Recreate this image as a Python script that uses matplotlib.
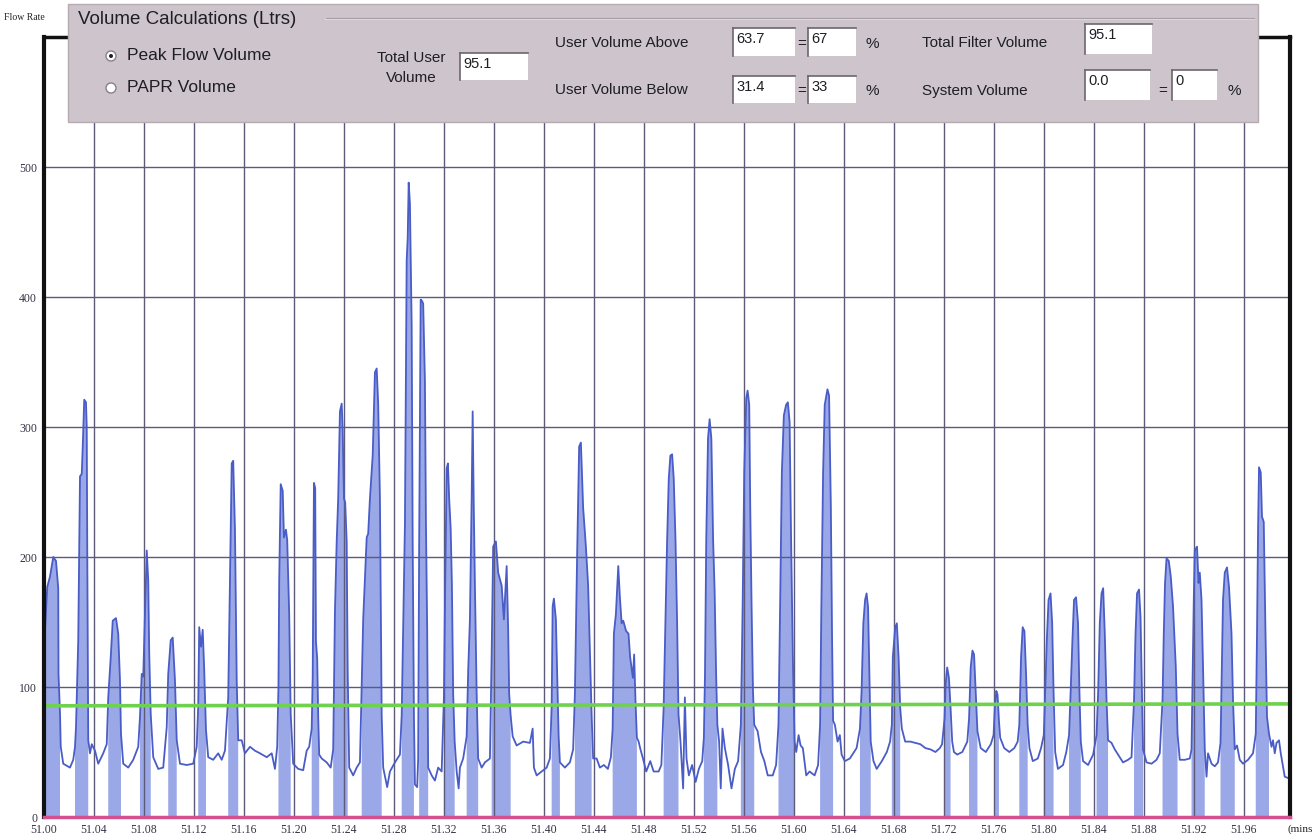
import numpy as np
import matplotlib
matplotlib.use("Agg")
import matplotlib.pyplot as plt
from matplotlib.patches import Rectangle, Circle

# ---------------- data ----------------
# time offsets in thousandths of a minute after 51.00 min
time_offset = [
    0.0, 0.8, 2.6, 4.8, 7.4, 9.6, 11.4, 11.6, 12.8, 13.4, 15.4, 20.8, 23.4,
    24.8, 25.6, 27.4, 28.8, 30.2, 31.0, 32.2, 33.6, 34.2, 34.6, 35.4, 36.8, 38.2, 40.8, 43.4, 47.4, 50.2,
    51.4, 53.4, 55.0, 57.6, 59.4, 60.8, 61.6, 63.4, 67.4, 71.4, 75.4,
    76.8, 78.2, 79.4, 80.8, 82.2, 83.4, 84.2, 85.4, 87.4, 91.4, 95.4, 98.2,
    99.4, 101.4, 103.0, 104.8, 106.2, 108.8, 114.2, 119.4, 122.2,
    123.4, 124.2, 125.6, 127.0, 128.2, 129.6, 131.4, 135.4, 139.4, 142.2, 144.8,
    147.4, 148.8, 150.2, 151.4, 152.8, 154.2, 155.4, 158.2, 160.8, 164.8, 168.8, 172.8, 178.2, 182.2, 184.8, 186.6,
    187.6, 188.2, 189.4, 191.0, 192.0, 193.6, 194.6, 196.2, 197.4, 199.4, 203.4, 207.4, 210.2, 212.2,
    214.2, 215.0, 215.4, 216.0, 217.0, 217.6, 218.6, 219.4, 220.2, 222.2, 226.2, 229.4,
    231.4, 232.8, 234.2, 235.4, 236.8, 238.2, 239.0, 240.0, 241.0, 242.2, 243.0, 244.2, 247.4, 250.2, 252.8,
    254.2, 255.4, 258.2, 259.4, 260.8, 263.0, 264.8, 266.2, 267.4, 268.8, 269.6, 270.2, 271.4, 274.6, 276.8, 280.8, 284.8,
    286.2, 287.4, 288.8, 290.2, 291.0, 291.8, 292.8, 294.2, 295.0, 296.0, 296.8, 298.6, 299.4,
    300.2, 301.4, 302.4, 303.4, 304.8, 305.6, 306.6, 307.4, 310.2, 312.8, 315.4, 318.2,
    320.0, 321.0, 322.2, 323.2, 324.2, 325.4, 326.4, 327.4, 328.6, 330.2, 331.8, 332.8, 335.4, 338.2,
    339.4, 340.8, 342.2, 343.0, 343.8, 344.8, 346.2, 347.4, 350.2, 352.8, 356.8,
    358.2, 359.4, 361.6, 363.4, 366.2, 368.0, 370.2, 371.4, 372.2, 373.4, 375.0, 378.2, 383.4, 388.8, 391.0,
    392.0, 394.2, 398.2, 402.2, 404.8,
    406.2, 407.0, 408.0, 409.6, 410.6, 411.8, 412.8, 416.8, 420.8, 423.4,
    424.8, 426.6, 428.2, 429.6, 431.4, 433.6, 435.4, 436.8, 438.2, 439.4, 442.2, 444.8, 448.0, 451.2, 453.6,
    455.0, 456.0, 457.6, 459.5, 460.8, 462.2, 463.5, 465.8, 467.7, 469.0, 471.2, 472.2, 473.3, 474.4, 475.8,
    477.0, 479.8, 481.9, 485.1, 487.8, 491.8, 494.0,
    495.8, 497.2, 498.6, 499.9, 501.2, 502.6, 503.9, 505.3, 506.6, 507.7, 509.3, 511.4, 512.8, 514.1, 516.0,
    518.6, 521.4, 524.0, 526.7,
    528.0, 528.9, 529.9, 531.3, 532.6, 534.0, 535.4, 536.6, 537.8, 538.8, 540.2, 541.5, 542.9, 544.8, 547.4,
    550.1, 552.8, 555.4,
    557.6, 559.0, 560.3, 561.9, 563.0, 564.3, 565.1, 566.2, 567.3, 568.3, 571.0, 573.7, 576.4, 579.1, 583.1, 585.8,
    587.7, 589.0, 590.4, 592.0, 593.8, 595.2, 596.6, 597.8, 599.2, 600.6, 601.9, 603.8, 605.4, 607.2, 609.9,
    612.6, 616.6, 619.4,
    621.0, 622.0, 623.4, 624.7, 626.9, 628.2, 629.6, 630.6, 631.4, 632.8, 635.0, 636.8, 638.2, 640.8, 644.8,
    650.2, 652.9,
    654.2, 655.6, 657.0, 658.2, 659.4, 660.4, 661.5, 663.7, 666.3, 670.4, 674.4, 677.0,
    678.4, 679.2, 681.1, 682.4, 683.8, 685.1, 686.4, 689.1, 693.2, 697.2, 701.2, 705.3, 709.3, 713.3, 716.8, 718.6,
    720.6, 721.4, 722.7, 724.1, 725.4, 726.7, 728.1, 730.7, 734.8, 738.8,
    740.2, 741.5, 742.9, 744.2, 745.5, 746.9, 749.5, 753.6, 757.6, 759.8,
    760.8, 762.0, 763.0, 764.1, 765.1, 768.3, 772.4, 776.4, 779.1,
    780.4, 781.8, 783.1, 784.5, 785.8, 787.1, 788.5, 791.2, 795.2, 797.8, 800.0,
    801.1, 802.4, 803.8, 805.4, 806.7, 807.8, 809.1, 811.3, 815.4, 818.0, 820.2,
    821.5, 822.9, 824.2, 825.8, 827.4, 828.5, 829.6, 831.4, 835.4, 839.5, 842.2,
    843.5, 844.8, 846.2, 847.5, 848.8, 850.2, 851.4, 854.2, 856.8, 860.8, 863.4, 867.4, 870.2,
    872.2, 873.4, 874.6, 876.2, 877.4, 878.4, 879.4, 882.2, 886.2, 890.2, 892.8,
    895.0, 896.0, 897.0, 898.2, 900.0, 901.6, 903.4, 905.6, 907.0, 908.8, 912.8, 916.8, 918.2,
    919.0, 920.0, 920.8, 922.6, 923.8, 924.8, 926.2, 927.4, 928.8, 930.2, 931.4, 934.2, 936.8, 939.4, 941.4,
    942.2, 943.4, 944.8, 946.6, 948.2, 950.2, 951.4, 952.8, 954.6, 956.8, 959.4, 963.4, 967.4, 969.6,
    970.6, 971.4, 972.2, 973.6, 974.6, 976.0, 977.4, 978.6, 980.2, 982.2, 983.4, 984.8, 986.2, 988.2, 989.6,
    991.4, 992.8, 995.4,
]

flow_rate = [
    120, 144, 177, 185, 200, 197, 176, 110, 80, 54, 41, 38, 44,
    54, 69, 136, 262, 264, 285, 321, 319, 300, 208, 59, 49, 56, 51, 41, 49, 56,
    92, 123, 151, 153, 141, 105, 64, 41, 38, 44, 54,
    77, 110, 108, 156, 205, 182, 126, 79, 46, 37, 38, 69,
    110, 136, 138, 105, 59, 41, 40, 41, 54,
    85, 146, 131, 144, 113, 67, 46, 44, 49, 44, 51,
    92, 182, 272, 274, 221, 105, 59, 59, 49, 54, 51, 49, 46, 49, 37, 54,
    100, 182, 256, 251, 215, 221, 213, 156, 79, 41, 37, 36, 51, 54,
    68, 108, 172, 257, 253, 135, 122, 78, 48, 45, 42, 38,
    52, 158, 212, 245, 312, 318, 298, 245, 242, 212, 112, 38, 32, 38, 42,
    102, 152, 215, 218, 245, 278, 342, 345, 318, 245, 145, 78, 38, 23, 35, 42, 48,
    78, 145, 225, 428, 445, 488, 472, 378, 212, 78, 25, 23, 45,
    212, 398, 397, 395, 335, 228, 145, 38, 32, 28, 38, 35,
    92, 178, 268, 272, 245, 222, 178, 95, 58, 35, 22, 38, 45, 62,
    112, 152, 245, 312, 245, 178, 95, 45, 38, 42, 45,
    125, 208, 212, 188, 178, 152, 193, 145, 95, 78, 62, 55, 58, 57, 68,
    38, 32, 35, 38, 45,
    85, 162, 168, 152, 112, 62, 42, 38, 42, 52,
    95, 202, 285, 288, 238, 208, 178, 128, 78, 45, 45, 38, 40, 37, 46,
    68, 141, 156, 193, 169, 149, 151, 143, 141, 123, 107, 125, 89, 61, 58,
    53, 43, 35, 43, 35, 35, 40,
    84, 149, 213, 260, 278, 279, 260, 213, 149, 79, 58, 22, 92, 45, 32,
    40, 27, 37, 43,
    61, 110, 213, 291, 306, 291, 213, 174, 110, 71, 58, 22, 68, 53, 40,
    22, 37, 43,
    71, 161, 265, 322, 328, 317, 239, 161, 97, 71, 66, 50, 43, 32, 32, 40,
    71, 161, 265, 309, 317, 319, 304, 213, 123, 58, 50, 63, 55, 53, 32,
    35, 32, 40,
    71, 161, 265, 317, 329, 324, 239, 136, 74, 71, 58, 63, 48, 43, 45,
    53, 68,
    97, 149, 167, 172, 161, 110, 58, 43, 37, 43, 50, 58,
    71, 123, 146, 149, 123, 84, 68, 58, 58, 57, 56, 53, 52, 50, 53, 56,
    76, 102, 115, 107, 84, 58, 50, 48, 50, 58,
    76, 115, 128, 125, 97, 66, 53, 50, 56, 63,
    84, 97, 94, 74, 61, 53, 50, 53, 58,
    71, 123, 146, 143, 110, 71, 53, 43, 45, 53, 63,
    97, 136, 167, 172, 149, 97, 50, 37, 40, 50, 63,
    97, 136, 167, 169, 149, 97, 58, 43, 40, 48, 63,
    97, 149, 172, 176, 141, 90, 59, 57, 52, 46, 42, 44, 46,
    90, 141, 172, 175, 154, 103, 52, 42, 41, 44, 49,
    90, 141, 180, 199, 197, 185, 162, 116, 64, 44, 44, 45, 52,
    103, 167, 205, 208, 180, 188, 167, 116, 52, 31, 49, 41, 39, 42, 57,
    103, 167, 188, 192, 177, 141, 90, 52, 55, 44, 41, 44, 49, 64,
    141, 218, 269, 265, 231, 227, 141, 77, 64, 54, 59, 49, 57, 59, 49,
    39, 31, 30,
]

# inhalation (filled) intervals, same offset units
inhale_start = [0.0, 24.8, 51.4, 76.8, 99.4, 123.4, 147.4, 187.6, 214.2, 231.4,
                254.2, 286.2, 300.2, 320.0, 338.2, 358.2, 406.2, 424.8, 455.0, 495.8,
                528.0, 557.6, 587.7, 621.0, 652.9, 678.4, 720.6, 740.2, 760.8, 780.4,
                800.0, 820.2, 842.2, 872.2, 895.0, 918.2, 941.4, 969.6]
inhale_end = [12.8, 35.4, 61.6, 85.4, 106.2, 129.6, 155.4, 197.4, 220.2, 243.0,
              270.2, 296.0, 307.4, 328.6, 347.4, 373.4, 412.8, 438.2, 474.4, 507.7,
              538.8, 568.3, 600.6, 631.4, 661.5, 685.1, 725.4, 746.9, 764.1, 787.1,
              807.8, 829.6, 851.4, 879.4, 907.0, 928.8, 952.8, 980.2]

threshold_time = [51.00, 51.997]
threshold_flow = [85.5, 87.0]

x_ticks = [51.00, 51.04, 51.08, 51.12, 51.16, 51.20, 51.24, 51.28, 51.32, 51.36, 51.40, 51.44,
           51.48, 51.52, 51.56, 51.60, 51.64, 51.68, 51.72, 51.76, 51.80, 51.84, 51.88, 51.92, 51.96]
x_tick_labels = ["51.00", "51.04", "51.08", "51.12", "51.16", "51.20", "51.24", "51.28", "51.32",
                 "51.36", "51.40", "51.44", "51.48", "51.52", "51.56", "51.60", "51.64", "51.68",
                 "51.72", "51.76", "51.80", "51.84", "51.88", "51.92", "51.96"]
y_ticks = [0, 100, 200, 300, 400, 500]
y_tick_labels = ["0", "100", "200", "300", "400", "500"]

# ---------------- figure ----------------
W, H = 1314, 840
fig = plt.figure(figsize=(W / 100, H / 100), dpi=100)
fig.patch.set_facecolor("white")

ax = fig.add_axes([44 / W, (H - 817) / H, (1290 - 44) / W, (817 - 37) / H])
t = 51.0 + np.array(time_offset) / 1000.0
f = np.array(flow_rate, dtype=float)
off = np.array(time_offset)
mask = np.zeros(len(t), dtype=bool)
for s, e in zip(inhale_start, inhale_end):
    mask |= (off >= s - 1e-9) & (off <= e + 1e-9)

ax.fill_between(t, 0, f, where=mask, interpolate=False, color="#9aa8e7", lw=0, zorder=1)
ax.plot(t, f, color="#4a5cc6", lw=1.3, zorder=3)
ax.plot(threshold_time, threshold_flow, color="#6fd24e", lw=2.6, zorder=4)

ax.set_xlim(51.0, 51.997)
ax.set_ylim(0, 600)
ax.set_xticks(x_ticks)
ax.set_xticklabels(x_tick_labels)
ax.set_yticks(y_ticks)
ax.set_yticklabels(y_tick_labels)
ax.grid(True, color="#5c5a78", lw=1.0)
ax.set_axisbelow(False)
ax.tick_params(length=0, pad=5)
for lab in ax.get_xticklabels() + ax.get_yticklabels():
    lab.set_fontfamily("Liberation Serif")
    lab.set_fontsize(8.5)
    lab.set_color("#333344")

ax.spines["left"].set_linewidth(3)
ax.spines["left"].set_color("#111111")
ax.spines["right"].set_linewidth(3)
ax.spines["right"].set_color("#111111")
ax.spines["top"].set_linewidth(2.5)
ax.spines["top"].set_color("#111111")
ax.spines["bottom"].set_linewidth(2.5)
ax.spines["bottom"].set_color("#d5508e")
for sp in ax.spines.values():
    sp.set_zorder(5)

# ---------------- overlay panel (pixel coordinates) ----------------
ov = fig.add_axes([0, 0, 1, 1], zorder=10)
ov.set_xlim(0, W)
ov.set_ylim(H, 0)
ov.axis("off")
ov.patch.set_alpha(0)

ov.text(4, 18, "Flow Rate", fontfamily="Liberation Serif", fontsize=7, color="#222", va="center", ha="left")
ov.text(1313, 829, "(mins", fontfamily="Liberation Serif", fontsize=8, color="#222", va="center", ha="right")

ov.add_patch(Rectangle((68, 4), 1190, 118, fc="#cdc4cc", ec="#b5abb3", lw=1))
ov.plot([326, 1254], [19, 19], color="#e6dfe5", lw=1.2)
ov.plot([326, 1254], [18, 18], color="#a89ea6", lw=0.8)

sans = "Liberation Sans"
tc = "#1e1e24"
ov.text(78, 19, "Volume Calculations (Ltrs)", fontfamily=sans, fontsize=13.5, color=tc, va="center", ha="left")

# radio buttons
ov.add_patch(Circle((111, 56), 5, fc="white", ec="#8a8088", lw=1))
ov.add_patch(Circle((111, 56), 2, fc="#222", ec="none"))
ov.add_patch(Circle((111, 88), 5, fc="white", ec="#8a8088", lw=1))
ov.text(127, 55, "Peak Flow Volume", fontfamily=sans, fontsize=12.5, color=tc, va="center", ha="left")
ov.text(127, 87, "PAPR Volume", fontfamily=sans, fontsize=12.5, color=tc, va="center", ha="left")


def box(x0, y0, x1, y1, txt):
    ov.add_patch(Rectangle((x0, y0), x1 - x0, y1 - y0, fc="white", ec="none"))
    ov.plot([x0, x1], [y0, y0], color="#6c666c", lw=1.2)
    ov.plot([x0, x0], [y0, y1], color="#6c666c", lw=1.2)
    ov.text(x0 + 3, y0 + 11, txt, fontfamily=sans, fontsize=10.5, color=tc, va="center", ha="left")


ov.text(411, 58, "Total User", fontfamily=sans, fontsize=11, color=tc, va="center", ha="center")
ov.text(411, 78, "Volume", fontfamily=sans, fontsize=11, color=tc, va="center", ha="center")
box(460, 53, 528, 80, "95.1")

ov.text(555, 43, "User Volume Above", fontfamily=sans, fontsize=11, color=tc, va="center", ha="left")
box(733, 28, 795, 56, "63.7")
ov.text(802, 44, "=", fontfamily=sans, fontsize=11, color=tc, va="center", ha="center")
box(808, 28, 856, 56, "67")
ov.text(872, 44, "%", fontfamily=sans, fontsize=11, color=tc, va="center", ha="center")

ov.text(555, 90, "User Volume Below", fontfamily=sans, fontsize=11, color=tc, va="center", ha="left")
box(733, 76, 795, 103, "31.4")
ov.text(802, 91, "=", fontfamily=sans, fontsize=11, color=tc, va="center", ha="center")
box(808, 76, 856, 103, "33")
ov.text(872, 91, "%", fontfamily=sans, fontsize=11, color=tc, va="center", ha="center")

ov.text(922, 43, "Total Filter Volume", fontfamily=sans, fontsize=11, color=tc, va="center", ha="left")
box(1085, 24, 1152, 54, "95.1")

ov.text(922, 91, "System Volume", fontfamily=sans, fontsize=11, color=tc, va="center", ha="left")
box(1085, 70, 1150, 100, "0.0")
ov.text(1163, 91, "=", fontfamily=sans, fontsize=11, color=tc, va="center", ha="center")
box(1172, 70, 1217, 100, "0")
ov.text(1234, 91, "%", fontfamily=sans, fontsize=11, color=tc, va="center", ha="center")

fig.savefig("out.png", dpi=100, facecolor="white")
